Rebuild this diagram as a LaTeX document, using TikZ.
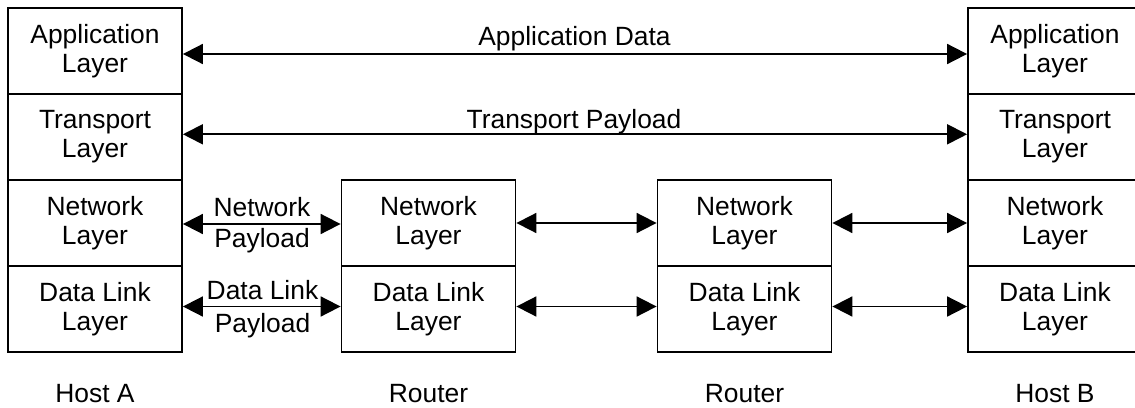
\documentclass[tikz,border=0pt]{standalone}
\usepackage{fontspec}
\setmainfont{Liberation Sans}
\usetikzlibrary{arrows.meta}
\begin{document}
\begin{tikzpicture}[x=0.5pt,y=-0.5pt,
  txt/.style={font=\fontsize{13.2}{14.6}\selectfont, inner sep=0pt, align=center},
  layer/.style={txt, draw, line width=0.9pt, minimum width=87pt, minimum height=43pt},
  conn/.style={line width=0.9pt, {Triangle[length=10pt,width=10pt]}-{Triangle[length=10pt,width=10pt]}}
]
\useasboundingbox (0,0) rectangle (1135,407);
\clip (0,0) rectangle (1135,407);
\fill[white] (0,0) rectangle (1135,407);
% Host A
\node[layer] (aA) at (95,51)  {Application\\Layer};
\node[layer] (tA) at (95,137) {Transport\\Layer};
\node[layer] (nA) at (95,223) {Network\\Layer};
\node[layer] (dA) at (95,309) {Data Link\\Layer};
% Router 1
\node[layer] (n1) at (428.5,223) {Network\\Layer};
\node[layer] (d1) at (428.5,309) {Data Link\\Layer};
% Router 2
\node[layer] (n2) at (744.5,223) {Network\\Layer};
\node[layer] (d2) at (744.5,309) {Data Link\\Layer};
% Host B
\node[layer] (aB) at (1055,51)  {Application\\Layer};
\node[layer] (tB) at (1055,137) {Transport\\Layer};
\node[layer] (nB) at (1055,223) {Network\\Layer};
\node[layer] (dB) at (1055,309) {Data Link\\Layer};
% connectors
\draw[conn] ([yshift=-1.5pt]aA.east) -- ([yshift=-1.5pt]aB.west);
\draw[conn] ([yshift=1.35pt]tA.east) -- ([yshift=1.35pt]tB.west);
\draw[conn] ([yshift=-0.5pt]nA.east) -- ([yshift=-0.5pt]n1.west);
\draw[conn] ([yshift=1.25pt]dA.east) -- ([yshift=1.25pt]d1.west);
\draw[conn] ([yshift=0pt]n1.east) -- ([yshift=0pt]n2.west);
\draw[conn] ([yshift=1.25pt]d1.east) -- ([yshift=1.25pt]d2.west);
\draw[conn] ([yshift=0pt]n2.east) -- ([yshift=0pt]nB.west);
\draw[conn] ([yshift=1.25pt]d2.east) -- ([yshift=1.25pt]dB.west);
% labels
\node[txt, anchor=base] (lapp) at (574.5,45) {Application Data};
\node[txt, anchor=base] (ltr) at (574,128) {Transport Payload};
\node[txt] (lnet) at (262,225) {Network\\[1.2pt]Payload};
\node[txt] (ldl) at (262.5,309) {Data Link\\[2.2pt]Payload};
\node[txt, anchor=base] (hA) at (95,402) {Host A};
\node[txt, anchor=base] (r1) at (428.5,402) {Router};
\node[txt, anchor=base] (r2) at (744.5,402) {Router};
\node[txt, anchor=base] (hB) at (1055,402) {Host B};
\end{tikzpicture}
\end{document}
